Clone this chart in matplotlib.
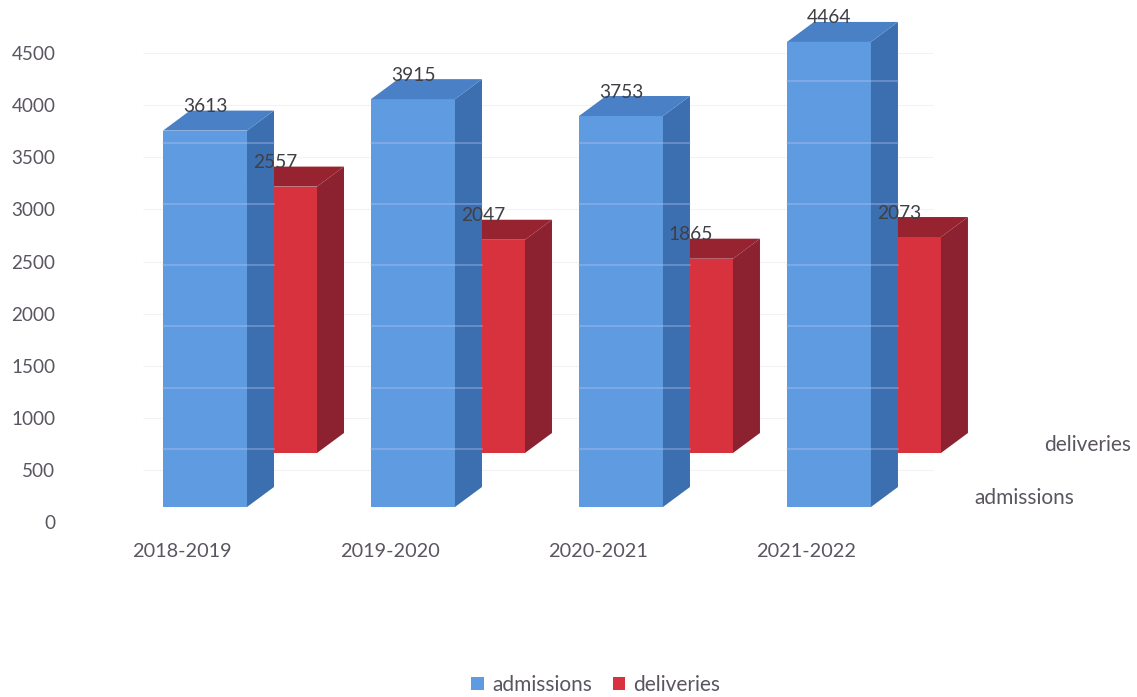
import numpy as np
import matplotlib
matplotlib.use("Agg")
import matplotlib.pyplot as plt
from matplotlib.patches import Polygon, Patch

# data
years = ["2018-2019", "2019-2020", "2020-2021", "2021-2022"]
admissions = [3613, 3915, 3753, 4464]
deliveries = [2557, 2047, 1865, 2073]
series_names = ["admissions", "deliveries"]

plt.rcParams['font.family'] = ['Lato', 'DejaVu Sans']

fig = plt.figure(figsize=(11.37, 6.97), dpi=100)
ax = fig.add_axes([0.0572, 0.2511, 0.9428, 0.7346])
ax.set_xlim(-0.673, 4.481)
ax.set_ylim(0, 4915)

UPX = 9.6            # y data units per pixel
XPX = 1 / 208.0      # x data units per pixel
w = 84 * XPX         # bar front width
ddx, ddy = 27 * XPX, 20 * UPX          # bar depth
row_dx, row_dy = 70 * XPX, 54 * UPX    # offset of back row
base = 15 * UPX

front_c = {"admissions": "#5e9be0", "deliveries": "#d9323f"}
side_c = {"admissions": "#3c6fb0", "deliveries": "#8c2230"}
top_c = {"admissions": "#4a80c6", "deliveries": "#96232f"}
txt_c = "#5a5560"

# faint grid
for t in range(0, 5000, 500):
    ax.hlines(t, -0.3, 3.5, color="#f3f3f3", lw=0.8, zorder=0)


def draw_bar(x0, b, h, name, stripes):
    fr = [(x0, b), (x0 + w, b), (x0 + w, b + h), (x0, b + h)]
    sd = [(x0 + w, b), (x0 + w + ddx, b + ddy), (x0 + w + ddx, b + h + ddy), (x0 + w, b + h)]
    tp = [(x0, b + h), (x0 + w, b + h), (x0 + w + ddx, b + h + ddy), (x0 + ddx, b + h + ddy)]
    ax.add_patch(Polygon(fr, closed=True, fc=front_c[name], ec="none", zorder=2))
    ax.add_patch(Polygon(sd, closed=True, fc=side_c[name], ec="none", zorder=2))
    ax.add_patch(Polygon(tp, closed=True, fc=top_c[name], ec="none", zorder=2))
    if stripes:
        for s in np.arange(701, 5000, 588):
            if b < s < b + h:
                ax.plot([x0, x0 + w + ddx], [s, s], color="#bcc4f2", lw=1.1,
                        alpha=0.45, zorder=3)
    ax.text(x0 + w / 2, b + h + ddy + 4 * UPX, str(int(h)), ha="center", va="center",
            fontsize=13.8, color="#3f3f46", zorder=5)


# back row first, then front row
for i, v in enumerate(deliveries):
    draw_bar(i - w / 2 + row_dx, base + row_dy, v, "deliveries", False)
for i, v in enumerate(admissions):
    draw_bar(i - w / 2, base, v, "admissions", True)

# depth axis labels
ax.text(3.937, 230, series_names[0], ha="center", va="center", fontsize=15,
        color=txt_c, clip_on=False)
ax.text(4.245, 739, series_names[1], ha="center", va="center", fontsize=15,
        color=txt_c, clip_on=False)

ax.set_yticks(range(0, 5000, 500))
ax.set_xticks(np.arange(len(years)) - 0.112)
ax.set_xticklabels(years)
ax.tick_params(axis="y", length=0, pad=7, labelsize=13.6, labelcolor=txt_c)
ax.tick_params(axis="x", length=0, pad=15, labelsize=14.3, labelcolor=txt_c)
for sp in ax.spines.values():
    sp.set_visible(False)

handles = [Patch(fc=front_c[n], ec="none") for n in series_names]
fig.legend(handles, series_names, loc="lower center", bbox_to_anchor=(0.524, -0.024),
           ncol=2, frameon=False, fontsize=15, handlelength=0.6, handleheight=0.6,
           handletextpad=0.4, columnspacing=1.0, labelcolor=txt_c)

fig.savefig("out.png", dpi=100)
